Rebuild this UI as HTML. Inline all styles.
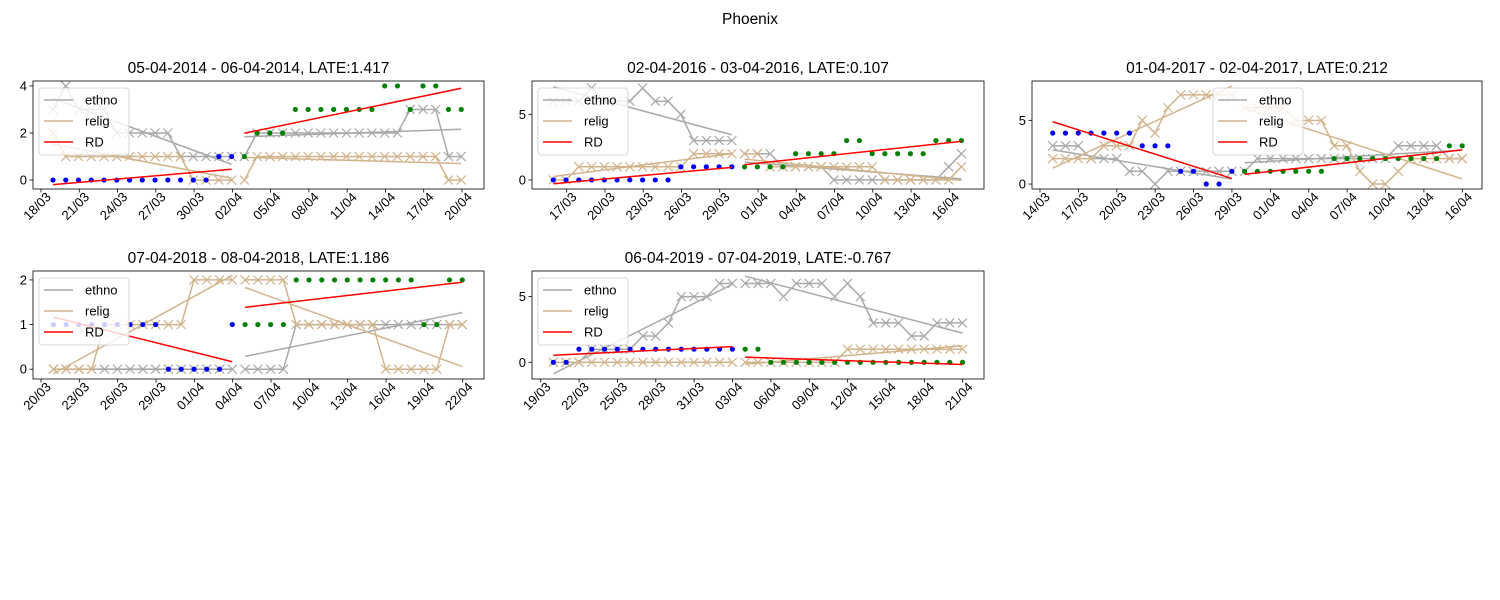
<!DOCTYPE html>
<html><head><meta charset="utf-8"><style>
html,body{margin:0;padding:0;background:#fff;}
svg{display:block;font-family:"Liberation Sans","DejaVu Sans",sans-serif;}
</style></head><body>
<svg id="chart" width="1500" height="600" viewBox="0 0 1500 600">
<text x="750" y="24" text-anchor="middle" font-size="15.5" fill="#000">Phoenix</text>
</svg>
<script>
// ---------- data ----------
const titles = ["05-04-2014 - 06-04-2014, LATE:1.417","02-04-2016 - 03-04-2016, LATE:0.107","01-04-2017 - 02-04-2017, LATE:0.212","07-04-2018 - 08-04-2018, LATE:1.186","06-04-2019 - 07-04-2019, LATE:-0.767"];
const tickLabels1 = ["18/03","21/03","24/03","27/03","30/03","02/04","05/04","08/04","11/04","14/04","17/04","20/04"];
const tickLabels2 = ["17/03","20/03","23/03","26/03","29/03","01/04","04/04","07/04","10/04","13/04","16/04"];
const tickLabels3 = ["14/03","17/03","20/03","23/03","26/03","29/03","01/04","04/04","07/04","10/04","13/04","16/04"];
const tickLabels4 = ["20/03","23/03","26/03","29/03","01/04","04/04","07/04","10/04","13/04","16/04","19/04","22/04"];
const tickLabels5 = ["19/03","22/03","25/03","28/03","31/03","03/04","06/04","09/04","12/04","15/04","18/04","21/04"];
const startDay = [0.94,-1.05,0.99,0.97,0.99];
const cutoff = [15,15,15,15,15];
const yTicks = [[0,2,4],[0,5],[0,5],[0,1,2],[0,5]];
const yRange = [[-0.38,4.21],[-0.69,7.54],[-0.39,8.09],[-0.22,2.2],[-1.27,6.95]];
const outcome1 = [0,0,0,0,0,0,0,0,0,0,0,0,0,1,1, 1,2,2,2,3,3,3,3,3,3,3,4,4,3,4,4,3,3];
const ethno1   = [3,4,3,3,3,2,2,2,2,2,1,1,1,1,1, 1,2,2,2,2,2,2,2,2,2,2,2,2,3,3,3,1,1];
const relig1   = [2,1,1,1,1,1,1,1,1,1,1,0,0,0,0, 0,1,1,1,1,1,1,1,1,1,1,1,1,1,1,1,0,0];
const outcome2 = [0,0,0,0,0,0,0,0,0,0,1,1,1,1,1, 1,1,1,1,2,2,2,2,3,3,2,2,2,2,2,3,3,3];
const ethno2   = [6,6,6,7,6,6,6,7,6,6,5,3,3,3,3, 2,2,2,1,1,1,1,0,0,0,0,0,0,0,0,0,1,2];
const relig2   = [0,0,1,1,1,1,1,1,1,1,1,2,2,2,2, 2,2,1,1,1,1,1,1,1,1,1,0,0,0,0,0,0,1];
const outcome3 = [4,4,4,4,4,4,4,3,3,3,1,1,0,0,1, 1,1,1,1,1,1,1,2,2,2,2,2,2,2,2,2,3,3];
const ethno3   = [3,3,3,2,2,2,1,1,0,1,1,1,1,1,1, 1,2,2,2,2,2,2,2,2,2,2,2,3,3,3,3,2,2];
const relig3   = [2,2,2,2,3,3,3,5,4,6,7,7,7,7,7, 6,6,6,6,5,5,5,3,3,1,0,0,1,2,2,2,2,2];
const outcome4 = [1,1,1,1,1,1,1,1,1,0,0,0,0,0,1, 1,1,1,1,2,2,2,2,2,2,2,2,2,2,1,1,2,2];
const ethno4   = [0,0,0,0,0,0,0,0,0,0,0,0,0,0,0, 0,0,0,0,1,1,1,1,1,1,1,1,1,1,1,1,1,1];
const relig4   = [0,0,0,0,1,1,1,1,1,1,1,2,2,2,2, 2,2,2,2,1,1,1,1,1,1,1,0,0,0,0,0,1,1];
const outcome5 = [0,0,1,1,1,1,1,1,1,1,1,1,1,1,1, 1,1,0,0,0,0,0,0,0,0,0,0,0,0,0,0,0,0];
const ethno5   = [0,0,0,1,1,1,1,2,2,3,5,5,5,6,6, 6,6,6,5,6,6,6,5,6,5,3,3,3,2,2,3,3,3];
const relig5   = [0,0,0,0,0,0,0,0,0,0,0,0,0,0,0, 0,0,0,0,0,0,0,0,1,1,1,1,1,1,1,1,1,1];

// ---------- layout ----------
const boxes = [[33,81,451,108],[532,81,452,108],[1032,81,450,108],[33,271,451,108],[532,271,452,108]];
const tickPx = [[41,462],[566.7,949.3],[1040,1462.3],[41,462.7],[540.7,962.7]];
const legendX = [6,6,181,6,6];
const allTicks = [tickLabels1,tickLabels2,tickLabels3,tickLabels4,tickLabels5];
const allOut = [outcome1,outcome2,outcome3,outcome4,outcome5];
const allEth = [ethno1,ethno2,ethno3,ethno4,ethno5];
const allRel = [relig1,relig2,relig3,relig4,relig5];

const NS = "http://www.w3.org/2000/svg";
const svg = document.getElementById("chart");
function mk(tag, attrs, parent){const e=document.createElementNS(NS,tag);for(const k in attrs)e.setAttribute(k,attrs[k]);(parent||svg).appendChild(e);return e;}
function fit(xs, ys){const n=xs.length;let mx=0,my=0;for(let i=0;i<n;i++){mx+=xs[i];my+=ys[i];}mx/=n;my/=n;let sxy=0,sxx=0;for(let i=0;i<n;i++){sxy+=(xs[i]-mx)*(ys[i]-my);sxx+=(xs[i]-mx)**2;}const b=sxx?sxy/sxx:0;return [my-b*mx,b];}

for(let p=0;p<5;p++){
  const [L,T,W,H]=boxes[p];
  const labels=allTicks[p];
  const pxDay=(tickPx[p][1]-tickPx[p][0])/(3*(labels.length-1));
  const X=d=>tickPx[p][0]+d*pxDay;
  const [y0,y1]=yRange[p];
  const Y=v=>T+H-(v-y0)/(y1-y0)*H;
  const g=mk("g",{});
  
  
  const clipId='clip'+p;
  const cp=mk("clipPath",{id:clipId},g);mk("rect",{x:L,y:T,width:W,height:H},cp);
  const t=mk("text",{x:L+W/2,y:T-8,"text-anchor":"middle","font-size":"15.5",fill:"#000"},g);
  t.textContent=titles[p];
  
  
  const plot=mk("g",{"clip-path":"url(#"+clipId+")"},g);
  const eth=allEth[p], rel=allRel[p], out=allOut[p], c=cutoff[p];
  const days=eth.map((_,i)=>startDay[p]+i);
  // series lines with x markers
  [[eth,"#a9a9a9","ethno"],[rel,"#d2b48c","relig"]].forEach(([arr,col,nm])=>{
    [[0,c],[c,arr.length]].forEach(([a,b])=>{
      const pts=[];for(let i=a;i<b;i++)pts.push(X(days[i]).toFixed(1)+","+Y(arr[i]).toFixed(1));
      const pl=mk("polyline",{points:pts.join(" "),fill:"none",stroke:col,"stroke-width":1.5},plot);
      
      
      for(let i=a;i<b;i++){
        const cx=X(days[i]),cy=Y(arr[i]);
        const m=mk("path",{d:`M${cx-4.5},${cy-4.5}L${cx+4.5},${cy+4.5}M${cx-4.5},${cy+4.5}L${cx+4.5},${cy-4.5}`,stroke:col,"stroke-width":1.2,fill:"none"},plot);
        
        
      }
      const [a0,b0]=fit(days.slice(a,b),arr.slice(a,b));
      const f=mk("line",{x1:X(days[a]),y1:Y(a0+b0*days[a]),x2:X(days[b-1]),y2:Y(a0+b0*days[b-1]),stroke:col,"stroke-width":1.5},plot);
      
      
    });
  });
  // outcome dots
  for(let i=0;i<out.length;i++){
    const d=mk("circle",{cx:X(days[i]),cy:Y(out[i]),r:2.6,fill:i<c?"#0000ff":"#008000"},plot);
    
    
  }
  // RD fits
  [[0,c],[c,out.length]].forEach(([a,b])=>{
    const [a0,b0]=fit(days.slice(a,b),out.slice(a,b));
    const f=mk("line",{x1:X(days[a]),y1:Y(a0+b0*days[a]),x2:X(days[b-1]),y2:Y(a0+b0*days[b-1]),stroke:"#ff0000","stroke-width":1.5},plot);
    
    
  });
  // frame
  const fr=mk("rect",{x:L,y:T,width:W,height:H,fill:"none",stroke:"#000","stroke-width":0.8},g);
  
  
  // x ticks
  labels.forEach((lb,k)=>{
    const tx=X(3*k);
    mk("line",{x1:tx,y1:T+H,x2:tx,y2:T+H+3.5,stroke:"#000","stroke-width":0.8},g);
    const tl=mk("text",{transform:`translate(${tx-4},${T+H+17}) rotate(-45)`,"text-anchor":"middle","font-size":"13",dy:"0.35em",fill:"#000"},g);
    tl.textContent=lb;
    
    
  });
  // y ticks
  yTicks[p].forEach(v=>{
    const ty=Y(v);
    mk("line",{x1:L-3.5,y1:ty,x2:L,y2:ty,stroke:"#000","stroke-width":0.8},g);
    const yl=mk("text",{x:L-6,y:ty,"text-anchor":"end","font-size":"13",dy:"0.35em",fill:"#000"},g);
    yl.textContent=v;
    
    
  });
  // legend
  const lx=L+legendX[p], ly=T+7;
  const lg=mk("g",{},g);
  
  
  mk("rect",{x:lx,y:ly,width:90,height:67,rx:3,fill:"#fff","fill-opacity":0.8,stroke:"#ccc","stroke-width":0.8},lg);
  [["ethno","#a9a9a9"],["relig","#d2b48c"],["RD","#ff0000"]].forEach(([nm,col],k)=>{
    const ey=ly+12+k*21;
    mk("line",{x1:lx+5,y1:ey,x2:lx+34,y2:ey,stroke:col,"stroke-width":1.5},lg);
    const et=mk("text",{x:lx+46,y:ey,dy:"0.35em","font-size":"13",fill:"#000"},lg);
    et.textContent=nm;
    
    
  });
}
</script>
</body></html>
